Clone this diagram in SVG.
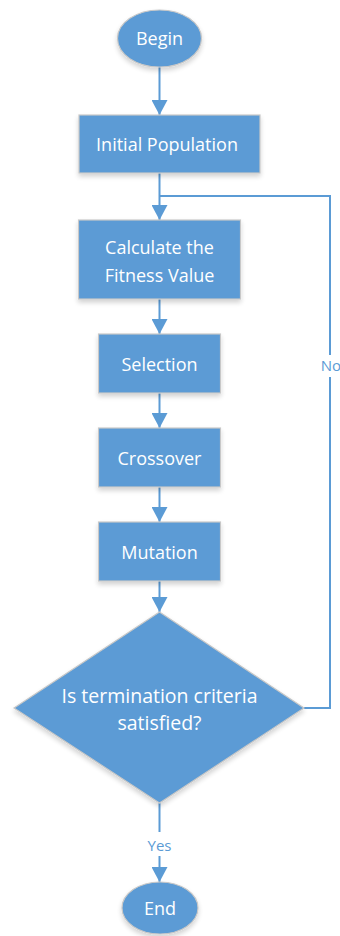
<svg xmlns="http://www.w3.org/2000/svg" width="340" height="936" viewBox="0 0 340 936">
<defs>
<style>
.n{fill:#5B9BD5;stroke:#C8C8C8;stroke-width:1.2;filter:url(#sh)}
.t{fill:#fff;font-family:"Open Sans","Liberation Sans",sans-serif;font-size:18px;text-anchor:middle}
.d{font-size:19.5px}
.c{fill:none;stroke:#5B9BD5;stroke-width:2}
.l{fill:#5B9BD5;font-family:"Open Sans","Liberation Sans",sans-serif;font-size:15px;text-anchor:middle}
</style>
<filter id="sh" x="-20%" y="-20%" width="140%" height="150%">
<feGaussianBlur in="SourceAlpha" stdDeviation="2.5"/>
<feOffset dx="0" dy="3" result="b"/>
<feComponentTransfer><feFuncA type="linear" slope="0.18"/></feComponentTransfer>
<feMerge><feMergeNode/><feMergeNode in="SourceGraphic"/></feMerge>
</filter>
<marker id="a" markerWidth="16" markerHeight="16" viewBox="0 0 16 16" refX="15" refY="8" orient="auto" markerUnits="userSpaceOnUse">
<path d="M0,0 L15,8 L0,16 Z" fill="#5B9BD5"/>
</marker>
</defs>
<g id="connectors">
<line class="c" x1="159.5" y1="67" x2="159.5" y2="115" marker-end="url(#a)"/>
<line class="c" x1="159.5" y1="173" x2="159.5" y2="220" marker-end="url(#a)"/>
<line class="c" x1="159.5" y1="299" x2="159.5" y2="334" marker-end="url(#a)"/>
<line class="c" x1="159.5" y1="393" x2="159.5" y2="428" marker-end="url(#a)"/>
<line class="c" x1="159.5" y1="487" x2="159.5" y2="522" marker-end="url(#a)"/>
<line class="c" x1="159.5" y1="581" x2="159.5" y2="612" marker-end="url(#a)"/>
<polyline class="c" points="304,708 330,708 330,196 159.5,196"/>
<rect x="320" y="355" width="20" height="22" fill="#fff"/>
<text class="l" x="331" y="371">No</text>
<line class="c" x1="159.5" y1="803" x2="159.5" y2="832"/>
<line class="c" x1="159.5" y1="856" x2="159.5" y2="882" marker-end="url(#a)"/>
<text class="l" x="159.5" y="851">Yes</text>
</g>
<g id="begin">
<ellipse class="n" cx="159.5" cy="38.5" rx="42" ry="28.5"/>
<text class="t" x="159.5" y="45">Begin</text>
</g>
<g id="initial">
<rect class="n" x="79" y="115" width="181" height="58"/>
<text class="t" x="167" y="151">Initial Population</text>
</g>
<g id="fitness">
<rect class="n" x="78.5" y="220" width="162" height="79"/>
<text class="t" x="159.5" y="254">Calculate the</text>
<text class="t" x="159.5" y="282">Fitness Value</text>
</g>
<g id="selection">
<rect class="n" x="98.5" y="334" width="122" height="59"/>
<text class="t" x="159.5" y="371">Selection</text>
</g>
<g id="crossover">
<rect class="n" x="98.5" y="428" width="122" height="59"/>
<text class="t" x="159.5" y="465">Crossover</text>
</g>
<g id="mutation">
<rect class="n" x="98.5" y="522" width="122" height="59"/>
<text class="t" x="159.5" y="559">Mutation</text>
</g>
<g id="decision">
<polygon class="n" points="159.5,612 304,708 159.5,803 14,708"/>
<text class="t d" x="159.5" y="703">Is termination criteria</text>
<text class="t d" x="159.5" y="730">satisfied?</text>
</g>
<g id="end">
<ellipse class="n" cx="160" cy="908" rx="38" ry="26"/>
<text class="t" x="160" y="915">End</text>
</g>
</svg>
